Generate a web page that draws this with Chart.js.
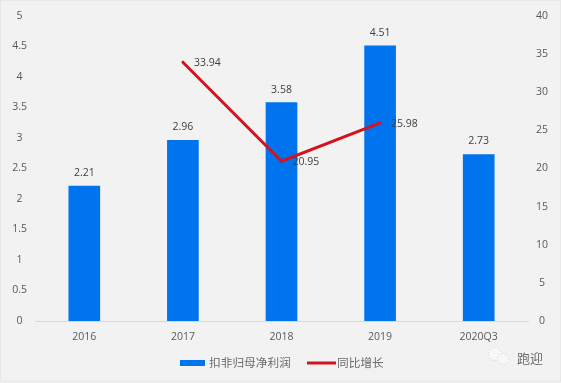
<!DOCTYPE html>
<html>
<head>
<meta charset="utf-8">
<script src="https://cdn.jsdelivr.net/npm/chart.js@4"></script>
<style>
html, body { margin: 0; padding: 0; background: #f2f2f3; }
#wrap { width: 561px; height: 383px; }
canvas { display: block; }
</style>
</head>
<body>
<div id="wrap"><canvas id="chart" width="561" height="383"></canvas></div>
<script>
const categories = ['2016', '2017', '2018', '2019', '2020Q3'];
const profit = [2.21, 2.96, 3.58, 4.51, 2.73];
const growth = [null, 33.94, 20.95, 25.98, null];
const leftTicks = [0, 0.5, 1, 1.5, 2, 2.5, 3, 3.5, 4, 4.5, 5];

const textFont = '"Open Sans", sans-serif';
const cjkFont = '"Noto Sans CJK SC", sans-serif';
const barColor = '#0073ee';
const lineColor = '#d2141e';

// frame around the picture
const frame = {
    id: 'frame',
    beforeDraw(chart) {
        const ctx = chart.ctx;
        ctx.save();
        ctx.strokeStyle = '#e8e8e8';
        ctx.lineWidth = 1;
        ctx.strokeRect(0.5, 0.5, 560, 381);
        ctx.restore();
    }
};

// value labels, legend and watermark
const extras = {
    id: 'extras',
    afterDatasetsDraw(chart) {
        const ctx = chart.ctx;
        ctx.save();
        ctx.font = '10.5px ' + textFont;
        ctx.fillStyle = '#404040';
        ctx.textAlign = 'center';
        chart.getDatasetMeta(0).data.forEach((bar, i) => {
            ctx.fillText(profit[i].toFixed(2), bar.x, bar.y - 10);
        });
        ctx.textAlign = 'left';
        chart.getDatasetMeta(1).data.forEach((pt, i) => {
            if (growth[i] === null) return;
            ctx.fillText(growth[i].toFixed(2), pt.x + 11, pt.y + 4);
        });

        // legend
        ctx.fillStyle = barColor;
        ctx.fillRect(180, 360, 25, 6);
        ctx.strokeStyle = lineColor;
        ctx.lineWidth = 3;
        ctx.beginPath();
        ctx.moveTo(307, 363);
        ctx.lineTo(336, 363);
        ctx.stroke();
        ctx.font = '11.7px ' + cjkFont;
        ctx.fillStyle = '#6b6b6b';
        ctx.textBaseline = 'middle';
        ctx.fillText('扣非归母净利润', 209, 363);
        ctx.fillText('同比增长', 337, 363);

        // watermark
        ctx.strokeStyle = '#d0d0d0';
        ctx.fillStyle = '#f8f8f8';
        ctx.lineWidth = 1;
        ctx.setLineDash([1, 2]);
        [[495, 354, 6.5], [503, 359, 5.5]].forEach(c => {
            ctx.beginPath();
            ctx.arc(c[0], c[1], c[2], 0, Math.PI * 2);
            ctx.fill();
            ctx.stroke();
        });
        ctx.setLineDash([]);
        ctx.font = '13px ' + cjkFont;
        ctx.fillStyle = '#6a6a6a';
        ctx.fillText('跑迎', 517, 358);
        ctx.restore();
    }
};

new Chart(document.getElementById('chart'), {
    data: {
        labels: categories,
        datasets: [{
            type: 'bar',
            label: '扣非归母净利润',
            data: profit,
            backgroundColor: barColor,
            barThickness: 31,
            yAxisID: 'y',
            order: 2
        }, {
            type: 'line',
            label: '同比增长',
            data: growth,
            borderColor: lineColor,
            backgroundColor: lineColor,
            borderWidth: 3,
            borderCapStyle: 'round',
            pointRadius: 0,
            tension: 0,
            yAxisID: 'y1',
            order: 1
        }]
    },
    options: {
        responsive: false,
        animation: false,
        layout: { padding: { top: 16 } },
        plugins: {
            legend: { display: false },
            tooltip: { enabled: false }
        },
        scales: {
            x: {
                afterFit(axis) { axis.height = 62; },
                grid: { display: false, drawTicks: false },
                border: { color: '#d9d9d9' },
                ticks: { padding: 10, color: '#595959', font: { size: 10.5, family: textFont } }
            },
            y: {
                position: 'left',
                min: 0,
                max: 5,
                afterFit(axis) { axis.width = 35; },
                afterBuildTicks(axis) {
                    axis.ticks = leftTicks.map(v => ({ value: v }));
                },
                grid: { display: false, drawTicks: false },
                border: { display: false },
                ticks: {
                    callback: v => String(v),
                    crossAlign: 'center',
                    padding: 8,
                    color: '#595959',
                    font: { size: 10.5, family: textFont }
                }
            },
            y1: {
                position: 'right',
                min: 0,
                max: 40,
                afterFit(axis) { axis.width = 33; },
                ticks: {
                    stepSize: 5,
                    crossAlign: 'center',
                    padding: 8,
                    color: '#595959',
                    font: { size: 10.5, family: textFont }
                },
                grid: { display: false, drawTicks: false },
                border: { display: false }
            }
        }
    },
    plugins: [frame, extras]
});
</script>
</body>
</html>
